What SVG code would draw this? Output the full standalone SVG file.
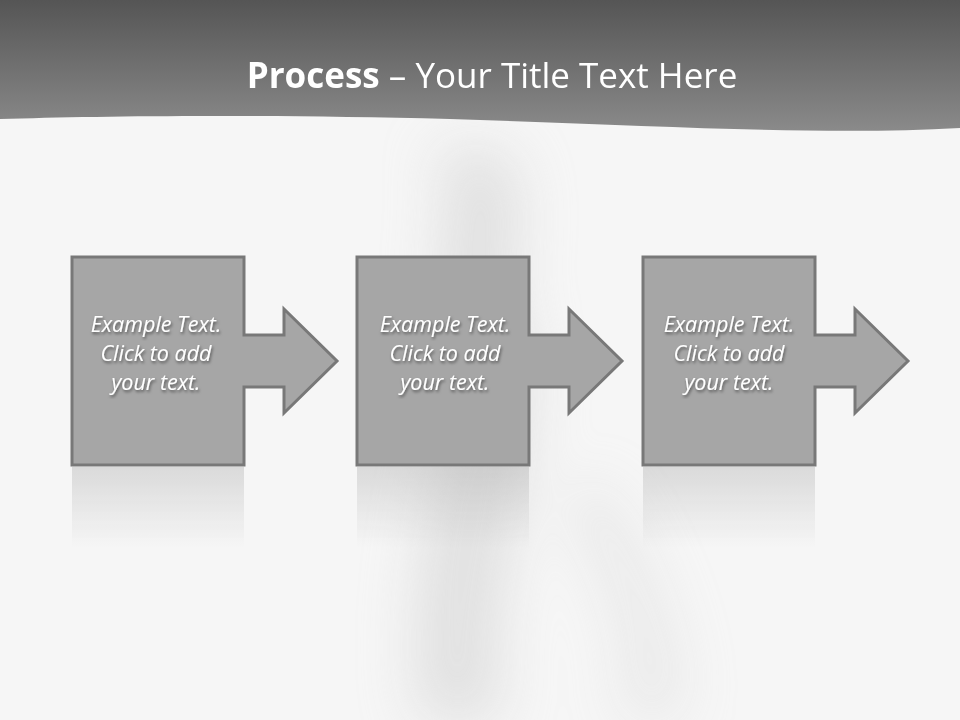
<svg xmlns="http://www.w3.org/2000/svg" width="960" height="720" viewBox="0 0 960 720">
<style>
.box{fill:#a6a6a6;stroke:#787878;stroke-width:3;stroke-linejoin:miter}
.t{font-family:"Open Sans","Liberation Sans",sans-serif;font-style:italic;font-size:21.5px;fill:#ffffff;text-anchor:middle;filter:url(#ts)}
</style>
<defs>
<linearGradient id="hdr" x1="0" y1="0" x2="0" y2="1"><stop offset="0" stop-color="#555"/><stop offset="1" stop-color="#8a8a8a"/></linearGradient>
<linearGradient id="refl" x1="0" y1="0" x2="0" y2="1"><stop offset="0" stop-color="#a6a6a6" stop-opacity="0.35"/><stop offset="1" stop-color="#a6a6a6" stop-opacity="0"/></linearGradient>
<filter id="blur" x="-50%" y="-50%" width="200%" height="200%"><feGaussianBlur stdDeviation="28"/></filter>
<filter id="ts"><feDropShadow dx="1" dy="2" stdDeviation="1.5" flood-color="#000" flood-opacity="0.5"/></filter>
<path id="shape" d="M0,0 H172 V78 H212 V52 L265,104 L212,156 V130 H172 V208 H0 Z"/>
</defs>
<rect width="960" height="720" fill="#f6f6f6"/>
<g filter="url(#blur)" fill="#d2d2d2" opacity="0.6">
<path d="M430,150 C470,180 420,260 450,320 C480,400 400,500 420,720 L500,720 C480,560 560,420 520,320 C500,260 540,190 500,150 Z"/>
<path d="M560,500 C600,560 640,650 620,720 L680,720 C690,640 640,540 600,480 Z" opacity="0.6"/>
</g>
<path d="M0,0 H960 V128 C820,136 650,125 450,119 C250,114 100,116 0,119 Z" fill="url(#hdr)"/>
<text x="492" y="88" text-anchor="middle" font-family="Open Sans, Liberation Sans, sans-serif" font-size="35" fill="#fff"><tspan font-weight="bold">Process</tspan> – Your Title Text Here</text>
<g id="reflections">
<rect x="72" y="467" width="172" height="80" fill="url(#refl)"/>
<rect x="357" y="467" width="172" height="80" fill="url(#refl)"/>
<rect x="643" y="467" width="172" height="80" fill="url(#refl)"/>
</g>
<g id="node1" transform="translate(72,257)"><use href="#shape" class="box"/>
<text class="t" x="84" y="75">Example Text.</text><text class="t" x="84" y="104">Click  to add</text><text class="t" x="84" y="133">your text.</text></g>
<g id="node2" transform="translate(357,257)"><use href="#shape" class="box"/>
<text class="t" x="88" y="75">Example Text.</text><text class="t" x="88" y="104">Click  to add</text><text class="t" x="88" y="133">your text.</text></g>
<g id="node3" transform="translate(643,257)"><use href="#shape" class="box"/>
<text class="t" x="86" y="75">Example Text.</text><text class="t" x="86" y="104">Click  to add</text><text class="t" x="86" y="133">your text.</text></g>
<g id="connectors"/>
</svg>
